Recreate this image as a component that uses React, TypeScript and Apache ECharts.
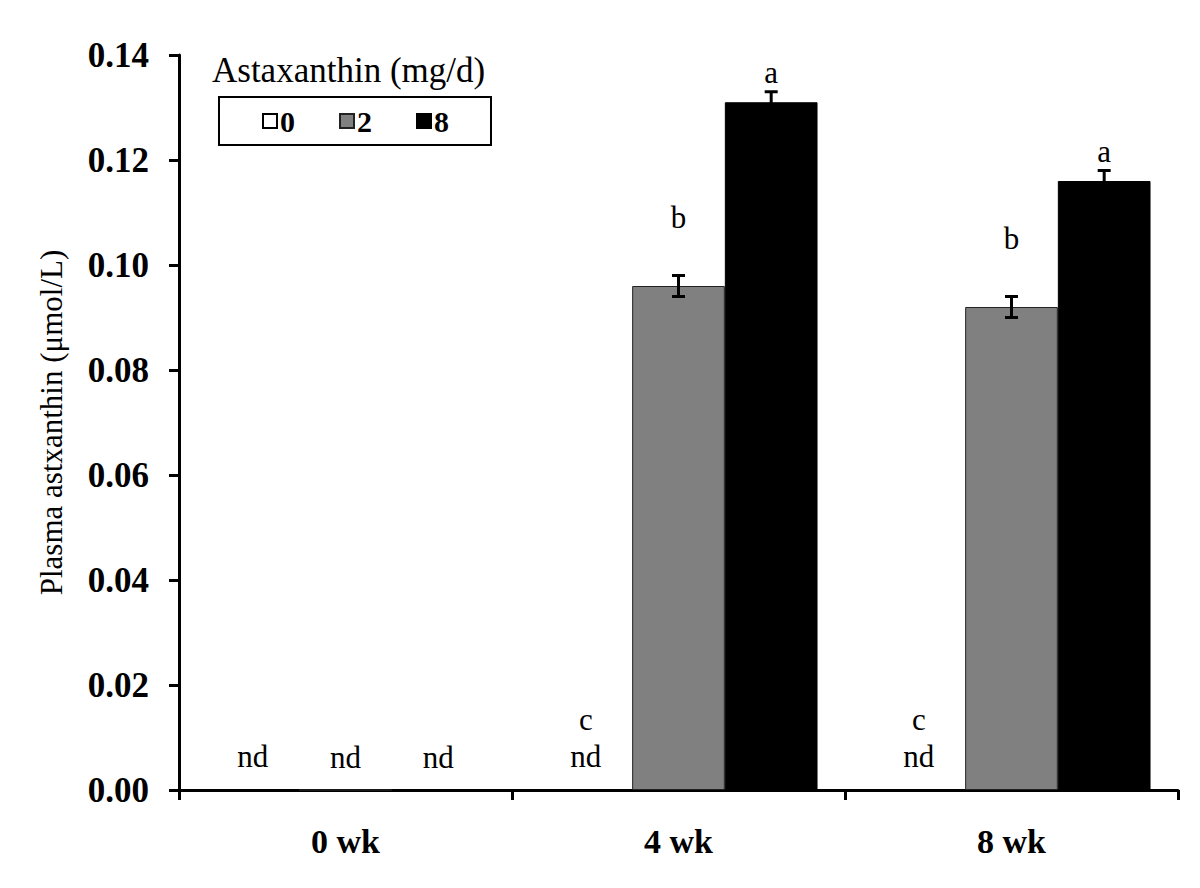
import React, { useEffect, useRef } from "react";
import * as echarts from "echarts";

const categories = ["0 wk", "4 wk", "8 wk"];
const seriesNames = ["0", "2", "8"];
const values0 = [0, 0, 0];
const values2 = [0, 0.096, 0.092];
const values8 = [0, 0.131, 0.116];
const err2 = [0, 0.002, 0.002];
const err8 = [0, 0.002, 0.002];
const letters0 = ["nd", "c\nnd", "c\nnd"];
const letters2 = ["nd", "b", "b"];
const letters8 = ["nd", "a", "a"];
const yTicks = { min: 0, max: 0.14, interval: 0.02 };

const FONT = "'Liberation Serif', 'Times New Roman', serif";
const GAP = 0.165;

export default function App() {
  const ref = useRef<HTMLDivElement>(null);
  useEffect(() => {
    if (!ref.current) return;
    const chart = echarts.init(ref.current, null, { renderer: "svg" });

    const labelBase = {
      show: true,
      position: "top",
      color: "#000",
      fontFamily: FONT,
      fontSize: 31,
      lineHeight: 37,
    };
    const makeData = (vals: number[], letters: string[], dist: number) =>
      vals.map((v, i) => ({
        value: v,
        label: {
          ...labelBase,
          formatter: letters[i],
          distance: letters[i].endsWith("nd") ? 14 : dist,
        },
      }));

    const errSeries = (name: string, vals: number[], errs: number[], offset: number) => ({
      type: "custom",
      name,
      data: vals.map((v, i) => [i, v, errs[i]]),
      z: 5,
      renderItem: (params: any, api: any) => {
        const ci = api.value(0);
        const v = api.value(1);
        const e = api.value(2);
        if (!e) return { type: "group", children: [] };
        const W = api.size([1, 0])[0];
        const bw = (W * (1 - GAP)) / 3;
        const x = api.coord([ci, v])[0] + offset * bw;
        const yHi = api.coord([ci, v + e])[1];
        const yLo = api.coord([ci, v - e])[1];
        const cap = 6.5;
        const st = { stroke: "#000", lineWidth: 3 };
        return {
          type: "group",
          children: [
            { type: "line", shape: { x1: x, y1: yHi, x2: x, y2: yLo }, style: st },
            { type: "line", shape: { x1: x - cap, y1: yHi, x2: x + cap, y2: yHi }, style: st },
            { type: "line", shape: { x1: x - cap, y1: yLo, x2: x + cap, y2: yLo }, style: st },
          ],
        };
      },
    });

    const option: any = {
      animation: false,
      backgroundColor: "#fff",
      textStyle: { fontFamily: FONT },
      title: {
        text: "Astaxanthin (mg/d)",
        left: 212,
        top: 53,
        padding: 0,
        textStyle: { fontFamily: FONT, fontSize: 35, fontWeight: "normal", color: "#000" },
      },
      legend: {
        data: seriesNames,
        left: 219,
        top: 97,
        orient: "horizontal",
        itemWidth: 14,
        itemHeight: 14,
        itemGap: 44,
        padding: [9, 42, 9, 43],
        borderColor: "#000",
        borderWidth: 2,
        icon: "rect",
        textStyle: { fontFamily: FONT, fontSize: 30, fontWeight: "bold", color: "#000", padding: [0, 0, 0, -2] },
      },
      grid: { left: 179, right: 22, top: 55, bottom: 98, containLabel: false },
      xAxis: {
        type: "category",
        data: categories,
        axisLine: { lineStyle: { color: "#000", width: 3 } },
        axisTick: { show: true, length: 10, lineStyle: { color: "#000", width: 3 }, alignWithLabel: false },
        axisLabel: { color: "#000", fontFamily: FONT, fontSize: 34, fontWeight: "bold", margin: 34 },
      },
      yAxis: {
        type: "value",
        min: yTicks.min,
        max: yTicks.max,
        interval: yTicks.interval,
        name: "Plasma astxanthin (\u03bcmol/L)",
        nameLocation: "middle",
        nameGap: 112,
        nameTextStyle: { color: "#000", fontFamily: FONT, fontSize: 31 },
        axisLine: { show: true, lineStyle: { color: "#000", width: 3 } },
        axisTick: { show: true, length: 10, lineStyle: { color: "#000", width: 3 } },
        axisLabel: {
          color: "#000",
          fontFamily: FONT,
          fontSize: 35,
          fontWeight: "bold",
          margin: 30,
          formatter: (v: number) => v.toFixed(2),
        },
        splitLine: { show: false },
      },
      series: [
        {
          type: "bar",
          name: seriesNames[0],
          barGap: "0%",
          barCategoryGap: GAP * 100 + "%",
          itemStyle: { color: "#fff", borderColor: "#000", borderWidth: 1.5 },
          data: makeData(values0, letters0, 14),
        },
        {
          type: "bar",
          name: seriesNames[1],
          barGap: "0%",
          barCategoryGap: GAP * 100 + "%",
          itemStyle: { color: "#808080", borderColor: "#222", borderWidth: 1 },
          data: makeData(values2, letters2, 50),
        },
        {
          type: "bar",
          name: seriesNames[2],
          barGap: "0%",
          barCategoryGap: GAP * 100 + "%",
          itemStyle: { color: "#000", borderColor: "#000", borderWidth: 1 },
          data: makeData(values8, letters8, 11),
        },
        errSeries("err2", values2, err2, 0),
        errSeries("err8", values8, err8, 1),
      ],
    };
    chart.setOption(option);
    return () => chart.dispose();
  }, []);
  return (
    <div
      ref={ref}
      style={{ position: "absolute", left: 0, top: 0, width: 1200, height: 888, background: "#fff" }}
    />
  );
}
